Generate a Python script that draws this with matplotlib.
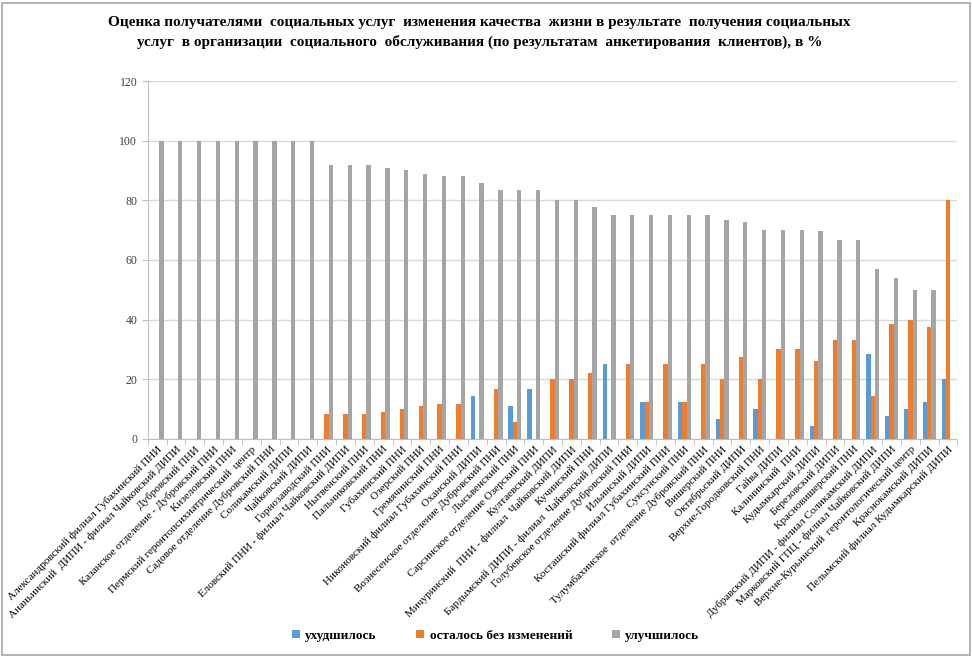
import numpy as np
import matplotlib.pyplot as plt
from matplotlib.patches import Rectangle

plt.rcParams['font.family'] = ['Liberation Serif', 'DejaVu Serif']

labels = [
    'Александровский филиал Губахинский ПНИ',
    'Ананьинский  ДИПИ - филиал Чайковский ДИПИ',
    'Дубровский ПНИ',
    'Казанское отделение - Дубровский ПНИ',
    'Кизеловский ПНИ',
    'Пермский геронтопсихиатрический  центр',
    'Садовое отделение Дубровский ПНИ',
    'Соликамский ДИПИ',
    'Чайковский ДИПИ',
    'Горнозаводский ПНИ',
    'Еловский ПНИ - филиал Чайковский ДИПИ',
    'Нытвенский ПНИ',
    'Пальниковский ПНИ',
    'Губахинский ПНИ',
    'Озерский ПНИ',
    'Гремячинский ПНИ',
    'Никоновский филиал Губахинский ПНИ',
    'Оханский ДИПИ',
    'Вознесенское отделение Дубровский ПНИ',
    'Лысьвенский ПНИ',
    'Сарсинское отделение Озерский ПНИ',
    'Култаевский ДИПИ',
    'Мичуринский  ПНИ - филиал  Чайковский ДИПИ',
    'Кучинский ПНИ',
    'Бардымский ДИПИ - филиал  Чайковский ДИПИ',
    'Голубевское отделение Дубровский ПНИ',
    'Ильинский ДИПИ',
    'Косташский филиал Губахинский ПНИ',
    'Суксунский ПНИ',
    'Тулумбахинское  отделение Дубровский ПНИ',
    'Вишерский ПНИ',
    'Октябрьский ДИПИ',
    'Верхне-Городковский ПНИ',
    'Гайва ДИПИ',
    'Калининский  ПНИ',
    'Кудымкарский ДИПИ',
    'Березовский ДИПИ',
    'Красновишерский ПНИ',
    'Дубравский ДИПИ - филиал Соликамский ДИПИ',
    'Марковский ГПЦ - филиал Чайковский ДИПИ',
    'Верхне-Курьинский  геронтологический центр',
    'Краснокамский ДИПИ',
    'Пелымский филиал Кудымкарский ДИПИ',
]

worse = [0, 0, 0, 0, 0, 0, 0, 0, 0, 0, 0, 0, 0, 0, 0, 0, 0, 14.3, 0, 11.1,
         16.7, 0, 0, 0, 25, 0, 12.5, 0, 12.5, 0, 6.7, 0, 10, 0, 0, 4.3,
         0, 0, 28.6, 7.7, 10, 12.5, 20]
same = [0, 0, 0, 0, 0, 0, 0, 0, 0, 8.3, 8.3, 8.3, 9.1, 10, 11.1, 11.8, 11.8, 0, 16.7, 5.6,
        0, 20, 20, 22.2, 0, 25, 12.5, 25, 12.5, 25, 20, 27.3, 20, 30, 30, 26.1,
        33.3, 33.3, 14.3, 38.5, 40, 37.5, 80]
better = [100, 100, 100, 100, 100, 100, 100, 100, 100, 91.7, 91.7, 91.7, 90.9, 90, 88.9, 88.2, 88.2, 85.7, 83.3, 83.3,
          83.3, 80, 80, 77.8, 75, 75, 75, 75, 75, 75, 73.3, 72.7, 70, 70, 70, 69.6,
          66.7, 66.7, 57.1, 53.8, 50, 50, 0]

title = ('Оценка получателями  социальных услуг  изменения качества  жизни в результате  получения социальных\n'
         'услуг  в организации  социального  обслуживания (по результатам  анкетирования  клиентов), в %')

fig = plt.figure(figsize=(9.72, 6.56), dpi=100)
fig.patches.append(Rectangle((0.002, 0.002), 0.996, 0.994, transform=fig.transFigure,
                             fill=False, edgecolor='#A6A6A6', linewidth=1.2))
ax = fig.add_axes([0.152, 0.331, 0.833, 0.5455])

x = np.arange(len(labels))
w = 0.23
ax.bar(x - w, worse, w, color='#5B9BD5', label='ухудшилось', zorder=3)
ax.bar(x, same, w, color='#ED7D31', label='осталось без изменений', zorder=3)
ax.bar(x + w, better, w, color='#A5A5A5', label='улучшилось', zorder=3)

ax.set_xlim(-0.5, len(labels) - 0.5)
ax.set_ylim(0, 120)
ax.set_yticks(np.arange(0, 121, 20))
ax.yaxis.grid(True, color='#D9D9D9', linewidth=1, zorder=0)
for s in ['top', 'right']:
    ax.spines[s].set_visible(False)
ax.spines['left'].set_color('#BFBFBF')
ax.spines['bottom'].set_color('#BFBFBF')

ax.set_xticks(x)
ax.set_xticklabels(labels, rotation=45, ha='right', va='top', rotation_mode='anchor', fontsize=8)
ax.set_xticks(np.arange(-0.5, len(labels), 1), minor=True)
ax.tick_params(axis='x', which='major', length=0, pad=4)
ax.tick_params(axis='x', which='minor', length=4, color='#BFBFBF')
ax.tick_params(axis='y', length=4, color='#BFBFBF', labelsize=8.5, labelcolor='#404040')

fig.text(0.493, 0.95, title, ha='center', va='center', fontsize=11, fontweight='bold',
         linespacing=1.5)

fig.legend(loc='center', bbox_to_anchor=(0.51, 0.031), ncol=3, frameon=False,
           prop={'weight': 'bold', 'size': 9.5}, handlelength=0.6, handleheight=0.6,
           columnspacing=3.0, handletextpad=0.4)

plt.savefig('out.png')
